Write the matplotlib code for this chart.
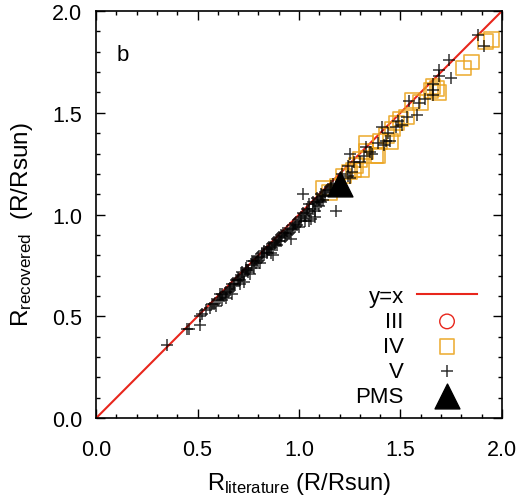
import matplotlib
matplotlib.use("Agg")
import matplotlib.pyplot as plt
from matplotlib.ticker import MultipleLocator

plt.rcParams['font.family'] = ['Liberation Sans', 'DejaVu Sans']
plt.rcParams['mathtext.fontset'] = 'custom'
plt.rcParams['mathtext.rm'] = 'Liberation Sans'
plt.rcParams['mathtext.it'] = 'Liberation Sans'

# ---- data: literature vs recovered radius (R/Rsun) ----
# class V (dwarfs)
v_lit = [0.35, 0.45, 0.46, 0.51, 0.52, 0.51, 0.54, 0.58, 0.59, 0.61, 0.62, 0.64,
         0.65, 0.67, 0.66, 0.68, 0.69, 0.71, 0.72, 0.73, 0.74, 0.76, 0.77, 0.78,
         0.79, 0.81, 0.82, 0.83, 0.84, 0.86, 0.87, 0.87, 0.88, 0.90, 0.91, 0.92,
         0.94, 0.96, 0.96, 0.98, 1.00, 1.00, 1.02, 1.03, 1.04, 1.05, 1.06, 1.07,
         1.08, 1.09, 1.10, 1.11, 1.12, 1.02, 1.18, 0.97, 0.63, 0.70, 0.75, 0.80,
         0.85, 0.89, 0.93, 0.99, 1.01, 1.07, 1.11, 1.13, 1.15, 1.16,
         0.56, 0.57, 0.60, 0.61, 0.62, 0.64, 0.66, 0.67, 0.68, 0.70, 0.71, 0.72,
         0.73, 0.74, 0.75, 0.77, 0.78, 0.79, 0.80, 0.82, 0.83, 0.84, 0.85, 0.86,
         0.88, 0.89, 0.90, 0.91, 0.93, 0.94, 0.95, 0.97, 0.98, 1.01, 1.03, 1.04,
         1.05, 1.08, 1.09, 1.10, 1.12, 1.13, 1.14, 1.16, 1.17, 1.08, 1.05,
         1.21, 1.24, 1.25, 1.26, 1.24, 1.27, 1.30, 1.25, 1.32, 1.33, 1.35, 1.36,
         1.42, 1.39, 1.43, 1.45, 1.44, 1.41, 1.48, 1.51, 1.49, 1.53, 1.58, 1.54,
         1.59, 1.62, 1.66, 1.66, 1.66, 1.69, 1.69, 1.75, 1.74, 1.91, 1.88]
v_rec = [0.36, 0.44, 0.44, 0.50, 0.51, 0.46, 0.53, 0.56, 0.55, 0.61, 0.58, 0.59,
         0.62, 0.61, 0.63, 0.65, 0.68, 0.66, 0.72, 0.67, 0.74, 0.71, 0.77, 0.74,
         0.78, 0.76, 0.81, 0.80, 0.83, 0.81, 0.86, 0.80, 0.86, 0.89, 0.87, 0.91,
         0.90, 0.93, 0.88, 0.96, 0.94, 0.98, 1.01, 0.97, 1.03, 1.05, 0.98, 1.06,
         1.02, 1.08, 1.04, 1.10, 1.07, 1.10, 1.02, 0.93, 0.60, 0.68, 0.73, 0.77,
         0.83, 0.85, 0.89, 0.95, 0.99, 1.03, 1.06, 1.09, 1.12, 1.14,
         0.54, 0.56, 0.58, 0.59, 0.61, 0.62, 0.64, 0.66, 0.66, 0.69, 0.68, 0.70,
         0.71, 0.73, 0.72, 0.75, 0.77, 0.76, 0.79, 0.79, 0.82, 0.81, 0.84, 0.84,
         0.85, 0.88, 0.87, 0.90, 0.91, 0.92, 0.91, 0.95, 0.94, 0.97, 1.00, 1.01,
         1.02, 1.05, 1.06, 1.07, 1.09, 1.11, 1.12, 1.13, 1.15, 0.99, 0.97,
         1.20, 1.19, 1.18, 1.21, 1.24, 1.26, 1.26, 1.30, 1.29, 1.33, 1.31, 1.30,
         1.34, 1.35, 1.36, 1.36, 1.40, 1.43, 1.43, 1.44, 1.46, 1.48, 1.49, 1.56,
         1.55, 1.57, 1.64, 1.61, 1.59, 1.71, 1.68, 1.67, 1.76, 1.83, 1.88]

# class IV (subgiants)
iv_lit = [1.95, 1.92, 1.85, 1.81, 1.68, 1.66, 1.65, 1.69, 1.60, 1.56, 1.53, 1.50,
          1.48, 1.46, 1.43, 1.40, 1.33, 1.45, 1.39, 1.33, 1.30, 1.28, 1.25, 1.31,
          1.22, 1.19, 1.12, 1.15, 1.38, 1.27]
iv_rec = [1.86, 1.85, 1.75, 1.72, 1.62, 1.63, 1.61, 1.60, 1.55, 1.56, 1.48, 1.47,
          1.45, 1.42, 1.39, 1.36, 1.35, 1.36, 1.29, 1.31, 1.27, 1.24, 1.21, 1.22,
          1.19, 1.14, 1.13, 1.11, 1.29, 1.22]

# class III (none in this range)
iii_lit = []
iii_rec = []

# pre-main-sequence
pms_lit = [1.20]
pms_rec = [1.15]

line_x = [0.0, 2.0]

fig = plt.figure(figsize=(5.25, 5.02), dpi=100)
ax = fig.add_axes([0.183, 0.165, 0.773, 0.811])

ax.plot(line_x, line_x, color='#e8261c', lw=1.5, label='y=x', zorder=2)
ax.scatter(iii_lit, iii_rec, s=110, marker='o', facecolors='none',
           edgecolors='#e8261c', linewidths=1.0, label='III')
ax.scatter(iv_lit, iv_rec, s=110, marker='s', facecolors='none',
           edgecolors='#eba21a', linewidths=1.2, alpha=0.85, label='IV', zorder=3)
ax.scatter(v_lit, v_rec, s=65, marker='+', color='black', linewidths=1.1,
           alpha=0.8, label='V', zorder=4)
ax.scatter(pms_lit, pms_rec, s=320, marker='^', color='black', label='PMS', zorder=5)

ax.set_xlim(0, 2)
ax.set_ylim(0, 2)
ax.xaxis.set_major_locator(MultipleLocator(0.5))
ax.yaxis.set_major_locator(MultipleLocator(0.5))
ax.xaxis.set_minor_locator(MultipleLocator(0.1))
ax.yaxis.set_minor_locator(MultipleLocator(0.1))
ax.xaxis.set_major_formatter(lambda v, p: f"{v:.1f}")
ax.yaxis.set_major_formatter(lambda v, p: f"{v:.1f}")
ax.tick_params(which='both', direction='in', top=True, right=True, width=1.0)
ax.tick_params(which='major', length=6.5, labelsize=15.5)
ax.tick_params(axis='x', which='major', pad=15)
ax.tick_params(axis='y', which='major', pad=10)
ax.tick_params(which='minor', length=3)
for s in ax.spines.values():
    s.set_linewidth(1.2)

ax.set_xlabel(r"R$_{\rm literature}$ (R/Rsun)", fontsize=17, labelpad=7)
ax.set_ylabel(r"R$_{\rm recovered}$  (R/Rsun)", fontsize=17.5)
ax.yaxis.set_label_coords(-0.150, 0.478)
ax.text(0.05, 0.894, "b", transform=ax.transAxes, fontsize=16, va='center')

leg = ax.legend(loc='lower right', bbox_to_anchor=(0.9606, 0.005),
                markerfirst=False, frameon=False, fontsize=16,
                handlelength=2.7, handletextpad=0.6, labelspacing=0.18,
                borderaxespad=0.0, scatterpoints=1)

fig.savefig("out.png", dpi=100)
